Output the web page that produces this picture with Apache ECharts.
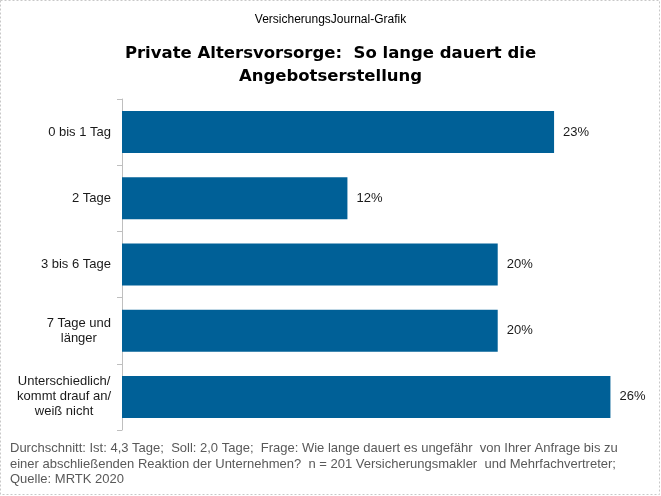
<!DOCTYPE html>
<html><head><meta charset="utf-8">
<script src="https://cdn.jsdelivr.net/npm/echarts@6/dist/echarts.min.js"></script>
<style>html,body{margin:0;padding:0;background:#fff}#c{width:661px;height:496px}</style>
</head><body><div id="c"></div>
<script>
const categories = ['0 bis 1 Tag', '2 Tage', '3 bis 6 Tage', '7 Tage und\nlänger', 'Unterschiedlich/\nkommt drauf an/\nweiß nicht'];
const values = [23, 12, 20, 20, 26];
const supTitle = 'VersicherungsJournal-Grafik';
const mainTitle = 'Private Altersvorsorge:  So lange dauert die\nAngebotserstellung';
const footnote = 'Durchschnitt: Ist: 4,3 Tage;  Soll: 2,0 Tage;  Frage: Wie lange dauert es ungefähr  von Ihrer Anfrage bis zu\neiner abschließenden Reaktion der Unternehmen?  n = 201 Versicherungsmakler  und Mehrfachvertreter;\nQuelle: MRTK 2020';

const chart = echarts.init(document.getElementById('c'));
chart.setOption({
  animation: false,
  backgroundColor: '#fff',
  title: [
    { text: supTitle, left: 'center', top: 9, textStyle: { fontFamily: 'Liberation Sans', fontSize: 12, fontWeight: 'normal', color: '#000' } },
    { text: mainTitle, left: 'center', top: 37, textStyle: { fontFamily: 'DejaVu Sans', fontSize: 16.5, fontWeight: 'bold', color: '#000', lineHeight: 23 } }
  ],
  graphic: [
    { type: 'rect', shape: { x: 0.5, y: 0.5, width: 659, height: 494 }, style: { fill: 'none', stroke: '#c8c8c8', lineWidth: 1, lineDash: [2, 2] }, silent: true },
    { type: 'text', left: 10, top: 441, style: { text: footnote, font: '13px "Liberation Sans"', fill: '#595959', lineHeight: 15.5 } }
  ],
  grid: { left: 122, right: 13, top: 99, bottom: 66, containLabel: false },
  xAxis: { type: 'value', min: 0, max: 28, show: false },
  yAxis: {
    type: 'category', data: categories, inverse: true,
    axisLine: { show: true, lineStyle: { color: '#bfbfbf', width: 1 } },
    axisTick: { show: true, inside: false, length: 5, lineStyle: { color: '#bfbfbf' } },
    axisLabel: {
      margin: 11, color: '#1a1a1a', fontFamily: 'Liberation Sans', fontSize: 13, lineHeight: 15,
      formatter: v => v.split('\n').map(s => '{c|' + s + '}').join('\n'),
      rich: { c: { align: 'center', fontFamily: 'Liberation Sans', fontSize: 13, lineHeight: 15, color: '#1a1a1a' } }
    }
  },
  series: [{
    type: 'bar', data: values, barWidth: 42,
    itemStyle: { color: '#006097' },
    label: { show: true, position: 'right', distance: 9, formatter: '{c}%', color: '#1a1a1a', fontFamily: 'Liberation Sans', fontSize: 13 }
  }]
});
</script></body></html>
